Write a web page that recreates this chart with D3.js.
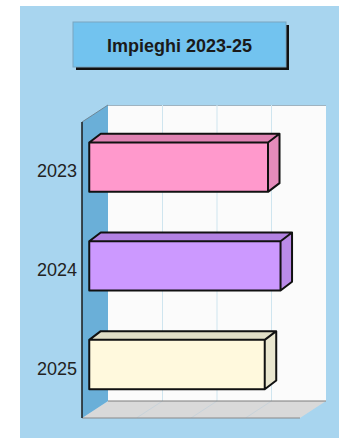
<!DOCTYPE html>
<html>
<head>
<meta charset="utf-8">
<script src="https://cdn.jsdelivr.net/npm/d3@7/dist/d3.min.js"></script>
<style>
  html, body { margin: 0; padding: 0; background: #ffffff; }
  svg { display: block; }
</style>
</head>
<body>
<svg id="chart" width="339" height="438"></svg>
<script>
// Impieghi per anno (barre orizzontali 3D)
const chartTitle = "Impieghi 2023-25";
const years = ["2023", "2024", "2025"];
const values = [3.28, 3.51, 3.22];
const xTicks = [0, 1, 2, 3, 4];
const frontColors = ["#ff99cc", "#cc99ff", "#fff9dd"];
const topColors = ["#df82b2", "#b281e2", "#e1dec6"];
const sideColors = ["#e58cbb", "#ba8be8", "#e9e6cf"];

const svg = d3.select("#chart");
const W = 339, H = 438;

// pannello di sfondo
svg.append("rect").attr("x", 20).attr("y", 6).attr("width", W - 20).attr("height", H - 6)
  .attr("fill", "#a8d5ef");

// titolo con ombra
const tb = { x: 73, y: 22, w: 213, h: 45 };
svg.append("rect").attr("x", tb.x + 3).attr("y", tb.y + 3).attr("width", tb.w).attr("height", tb.h)
  .attr("fill", "#111");
svg.append("rect").attr("x", tb.x).attr("y", tb.y).attr("width", tb.w).attr("height", tb.h)
  .attr("fill", "#72c3ef").attr("stroke", "#7aa6c0").attr("stroke-width", 1);
svg.append("text").attr("x", tb.x + tb.w / 2).attr("y", tb.y + tb.h / 2 + 1)
  .attr("text-anchor", "middle").attr("dominant-baseline", "central")
  .attr("font-family", "Liberation Sans, Arial, sans-serif").attr("font-weight", "bold")
  .attr("font-size", 18).attr("fill", "#1a1a1a").text(chartTitle);

// geometria del piano frontale e profondità
const plot = { left: 82, right: 300, top: 122, bottom: 418 };
const D = { dx: 26, dy: -17 };       // profondità delle pareti
const d = { dx: 11.5, dy: -8.7 };    // profondità delle barre
const off = { dx: (D.dx - d.dx) / 2, dy: (D.dy - d.dy) / 2 };

const x = d3.scaleLinear().domain([0, 4]).range([plot.left, plot.right]);
const y = d3.scaleBand().domain(years).range([plot.top, plot.bottom])
  .paddingInner(0.5).paddingOuter(0.25);

const poly = pts => pts.map(p => p.join(",")).join(" ");

// parete di fondo
svg.append("polygon")
  .attr("points", poly([[plot.left + D.dx, plot.top + D.dy], [plot.right + D.dx, plot.top + D.dy],
    [plot.right + D.dx, plot.bottom + D.dy], [plot.left + D.dx, plot.bottom + D.dy]]))
  .attr("fill", "#fbfbfb");
svg.append("line")
  .attr("x1", plot.left + D.dx).attr("x2", plot.right + D.dx)
  .attr("y1", plot.top + D.dy + 0.5).attr("y2", plot.top + D.dy + 0.5)
  .attr("stroke", "#9fb3c0").attr("stroke-width", 1);

// griglia verticale sulla parete di fondo
svg.append("g").selectAll("line").data(xTicks.slice(1, -1)).join("line")
  .attr("x1", t => x(t) + D.dx).attr("x2", t => x(t) + D.dx)
  .attr("y1", plot.top + D.dy).attr("y2", plot.bottom + D.dy)
  .attr("stroke", "#cfe5ef").attr("stroke-width", 1);

// pavimento
svg.append("polygon")
  .attr("points", poly([[plot.left, plot.bottom], [plot.right, plot.bottom],
    [plot.right + D.dx, plot.bottom + D.dy], [plot.left + D.dx, plot.bottom + D.dy]]))
  .attr("fill", "#d9d9d9");
svg.append("g").selectAll("line").data(xTicks.slice(1, -1)).join("line")
  .attr("x1", t => x(t)).attr("x2", t => x(t) + D.dx)
  .attr("y1", plot.bottom).attr("y2", plot.bottom + D.dy)
  .attr("stroke", "#c9d3da").attr("stroke-width", 1);
svg.append("line")
  .attr("x1", plot.left + D.dx).attr("x2", plot.right + D.dx)
  .attr("y1", plot.bottom + D.dy).attr("y2", plot.bottom + D.dy)
  .attr("stroke", "#7d7d7d").attr("stroke-width", 1.2);
svg.append("line")
  .attr("x1", plot.left).attr("x2", plot.right)
  .attr("y1", plot.bottom).attr("y2", plot.bottom)
  .attr("stroke", "#8a8a8a").attr("stroke-width", 1.2);

// parete sinistra
svg.append("polygon")
  .attr("points", poly([[plot.left, plot.top], [plot.left + D.dx, plot.top + D.dy],
    [plot.left + D.dx, plot.bottom + D.dy], [plot.left, plot.bottom]]))
  .attr("fill", "#6aafd8");
svg.append("line")
  .attr("x1", plot.left).attr("y1", plot.top)
  .attr("x2", plot.left + D.dx).attr("y2", plot.top + D.dy)
  .attr("stroke", "#6f8796").attr("stroke-width", 1);

// asse delle categorie
svg.append("line")
  .attr("x1", plot.left).attr("x2", plot.left)
  .attr("y1", plot.top).attr("y2", plot.bottom)
  .attr("stroke", "#1a1a1a").attr("stroke-width", 1.5);

// etichette degli anni
svg.append("g").selectAll("text").data(years).join("text")
  .attr("x", plot.left - 5).attr("y", yr => y(yr) + y.bandwidth() / 2)
  .attr("text-anchor", "end").attr("dominant-baseline", "central")
  .attr("font-family", "Liberation Sans, Arial, sans-serif")
  .attr("font-size", 18).attr("fill", "#222").text(yr => yr);

// barre 3D
const bars = svg.append("g").selectAll("g").data(years.map((yr, i) => ({ yr, v: values[i], i }))).join("g");
const x0 = b => x(0) + off.dx;
const x1 = b => x(b.v) + off.dx;
const yt = b => y(b.yr) + off.dy;
const yb = b => y(b.yr) + y.bandwidth() + off.dy;

bars.append("polygon")
  .attr("points", b => poly([[x0(b), yt(b)], [x0(b) + d.dx, yt(b) + d.dy],
    [x1(b) + d.dx, yt(b) + d.dy], [x1(b), yt(b)]]))
  .attr("fill", b => topColors[b.i]);
bars.append("polygon")
  .attr("points", b => poly([[x1(b), yt(b)], [x1(b) + d.dx, yt(b) + d.dy],
    [x1(b) + d.dx, yb(b) + d.dy], [x1(b), yb(b)]]))
  .attr("fill", b => sideColors[b.i]);
bars.append("rect")
  .attr("x", x0).attr("y", yt)
  .attr("width", b => x1(b) - x0(b)).attr("height", y.bandwidth())
  .attr("fill", b => frontColors[b.i]);
// contorno
bars.append("path")
  .attr("d", b => {
    const a = x0(b), c = x1(b), t = yt(b), bt = yb(b);
    return `M${a},${bt}L${a},${t}L${a + d.dx},${t + d.dy}L${c + d.dx},${t + d.dy}L${c + d.dx},${bt + d.dy}L${c},${bt}Z` +
      `M${a},${t}L${c},${t}L${c + d.dx},${t + d.dy}M${c},${t}L${c},${bt}`;
  })
  .attr("fill", "none").attr("stroke", "#111").attr("stroke-width", 2)
  .attr("stroke-linejoin", "round");
</script>
</body>
</html>
